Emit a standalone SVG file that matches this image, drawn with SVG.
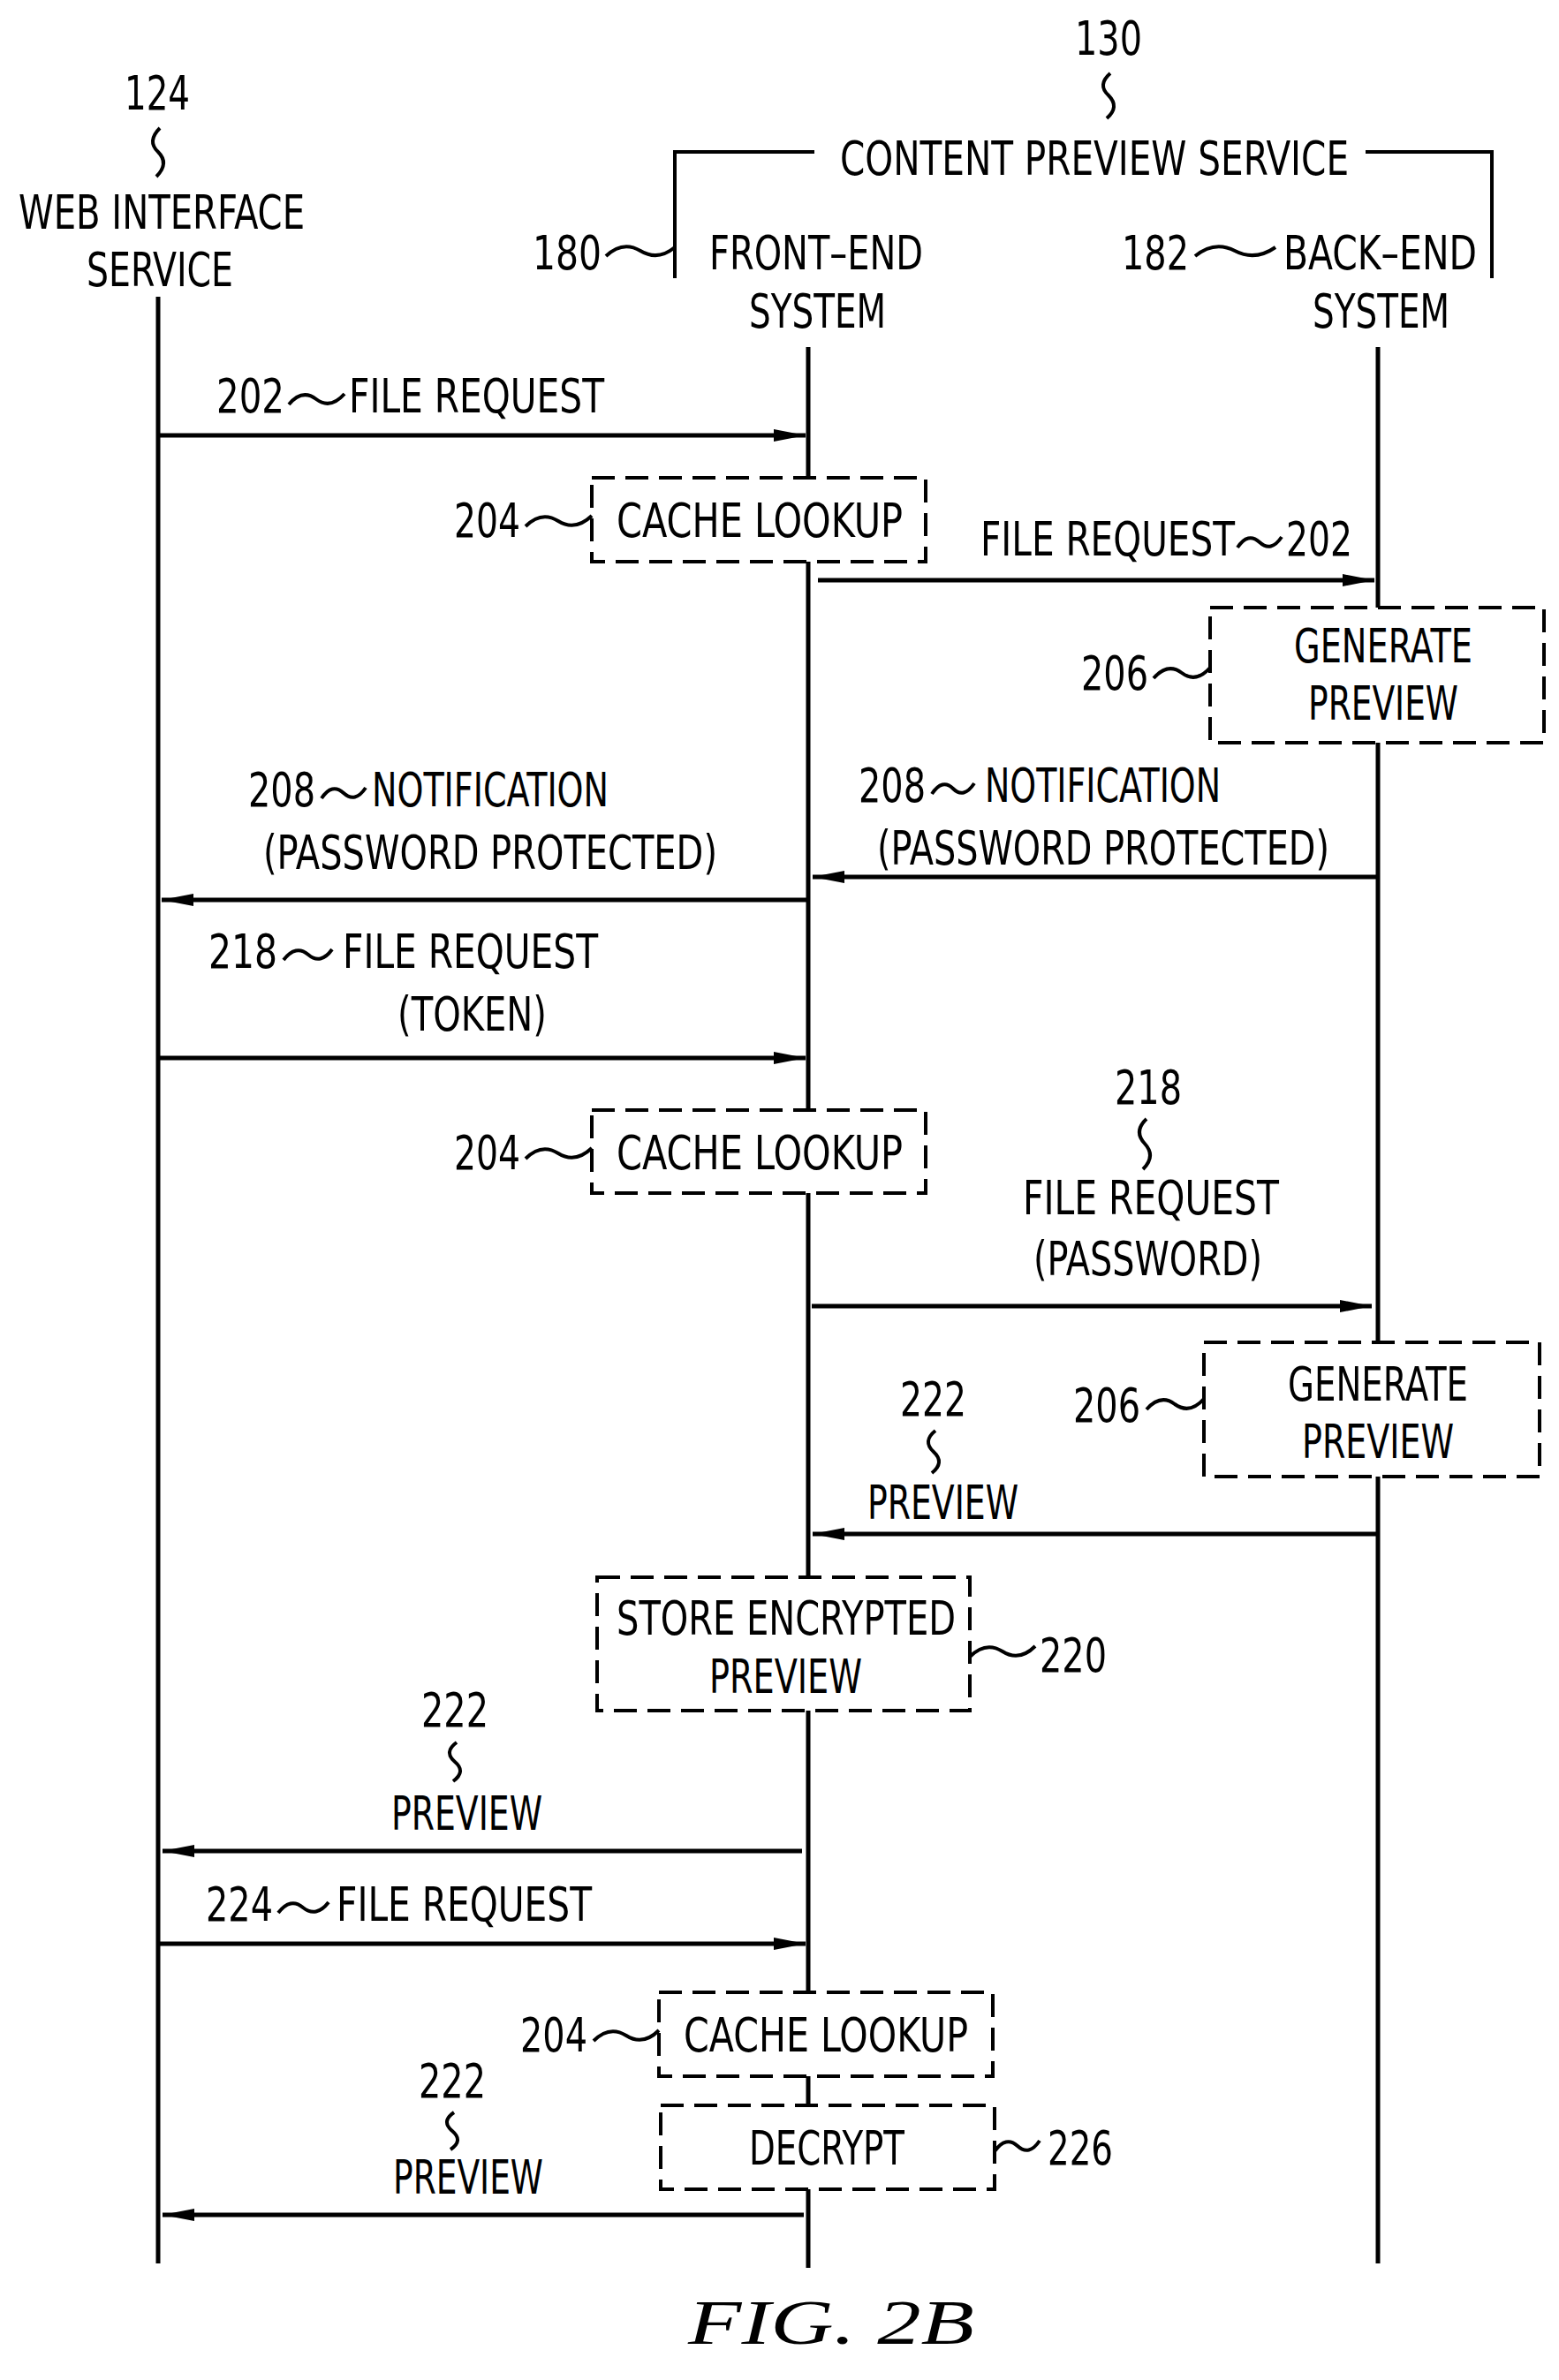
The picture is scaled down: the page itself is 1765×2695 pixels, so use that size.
<svg xmlns="http://www.w3.org/2000/svg" width="1765" height="2695" viewBox="0 0 1765 2695">
<style>
text{font-family:"DejaVu Sans Condensed","Liberation Sans",sans-serif;font-size:54px;fill:#000}
.l{stroke:#000;stroke-width:5;fill:none}
.b{stroke:#000;stroke-width:4;fill:#fff;stroke-dasharray:26 12}
.s{stroke:#000;stroke-width:4;fill:none}
.a{stroke:#000;stroke-width:5;fill:none;marker-end:url(#ah)}
</style>
<defs><marker id="ah" markerUnits="userSpaceOnUse" markerWidth="40" markerHeight="20" refX="36" refY="9" orient="auto"><path d="M0,2 L36,9 L0,16 Z" fill="#000"/></marker></defs>
<rect width="1765" height="2695" fill="#fff"/>
<g id="lifelines">
<line class="l" x1="179" y1="336" x2="179" y2="2563"/>
<line class="l" x1="915" y1="393" x2="915" y2="2568"/>
<line class="l" x1="1560" y1="393" x2="1560" y2="2563"/>
</g>
<g id="web"><text x="141" y="124" textLength="74" lengthAdjust="spacingAndGlyphs">124</text>
<path class="s" d="M181,145 Q166,160 179,172 Q192,185 177,200"/>
<text x="21" y="259" textLength="324" lengthAdjust="spacingAndGlyphs">WEB  INTERFACE</text>
<text x="98" y="324" textLength="166" lengthAdjust="spacingAndGlyphs">SERVICE</text></g>
<g id="cps"><text x="1217" y="62" textLength="76" lengthAdjust="spacingAndGlyphs">130</text>
<path class="s" d="M1257,83 Q1242,96 1255,108 Q1268,121 1253,134"/>
<text x="951" y="198" textLength="576" lengthAdjust="spacingAndGlyphs">CONTENT  PREVIEW  SERVICE</text>
<path class="s" d="M764,315 V172 H922 M1546,172 H1689 V315"/></g>
<g id="front"><text x="603" y="305" textLength="78" lengthAdjust="spacingAndGlyphs">180</text>
<path class="s" d="M686,290 Q705,272 725,284 Q745,296 764,280"/>
<text x="803" y="305" textLength="242" lengthAdjust="spacingAndGlyphs">FRONT–END</text>
<text x="848" y="371" textLength="155" lengthAdjust="spacingAndGlyphs">SYSTEM</text></g>
<g id="back"><text x="1270" y="305" textLength="76" lengthAdjust="spacingAndGlyphs">182</text>
<path class="s" d="M1353,290 Q1375,272 1398,284 Q1421,296 1444,280"/>
<text x="1453" y="305" textLength="219" lengthAdjust="spacingAndGlyphs">BACK–END</text>
<text x="1486" y="371" textLength="155" lengthAdjust="spacingAndGlyphs">SYSTEM</text></g>
<g id="connectors">
<line class="a" x1="179" y1="493" x2="912" y2="493"/>
<line class="a" x1="926" y1="657" x2="1556" y2="657"/>
<line class="a" x1="1560" y1="993" x2="920" y2="993"/>
<line class="a" x1="915" y1="1019" x2="183" y2="1019"/>
<line class="a" x1="179" y1="1198" x2="912" y2="1198"/>
<line class="a" x1="919" y1="1479" x2="1553" y2="1479"/>
<line class="a" x1="1560" y1="1737" x2="920" y2="1737"/>
<line class="a" x1="908" y1="2096" x2="184" y2="2096"/>
<line class="a" x1="179" y1="2201" x2="912" y2="2201"/>
<line class="a" x1="910" y1="2508" x2="184" y2="2508"/>
</g>
<g id="m202a"><text x="245" y="467" textLength="77" lengthAdjust="spacingAndGlyphs">202</text>
<path class="s" d="M327,458 Q342,440 358,452 Q374,464 390,446"/>
<text x="395" y="467" textLength="289" lengthAdjust="spacingAndGlyphs">FILE  REQUEST</text></g>
<g id="cache1"><rect class="b" x="670" y="541" width="378" height="95"/>
<text x="698" y="608" textLength="324" lengthAdjust="spacingAndGlyphs">CACHE  LOOKUP</text>
<text x="514" y="608" textLength="75" lengthAdjust="spacingAndGlyphs">204</text>
<path class="s" d="M595,596 Q613,578 632,590 Q651,602 670,584"/></g>
<g id="m202b"><text x="1110" y="629" textLength="288" lengthAdjust="spacingAndGlyphs">FILE  REQUEST</text>
<path class="s" d="M1401,620 Q1413,602 1426,614 Q1439,626 1451,608"/>
<text x="1456" y="629" textLength="75" lengthAdjust="spacingAndGlyphs">202</text></g>
<g id="gen1"><rect class="b" x="1370" y="688" width="378" height="153"/>
<text x="1465" y="750" textLength="202" lengthAdjust="spacingAndGlyphs">GENERATE</text>
<text x="1481" y="815" textLength="170" lengthAdjust="spacingAndGlyphs">PREVIEW</text>
<text x="1224" y="781" textLength="76" lengthAdjust="spacingAndGlyphs">206</text>
<path class="s" d="M1306,768 Q1322,750 1338,762 Q1354,774 1370,756"/></g>
<g id="m208b"><text x="972" y="908" textLength="76" lengthAdjust="spacingAndGlyphs">208</text>
<path class="s" d="M1055,899 Q1067,881 1079,893 Q1091,905 1103,887"/>
<text x="1115" y="908" textLength="267" lengthAdjust="spacingAndGlyphs">NOTIFICATION</text>
<text x="993" y="979" textLength="512" lengthAdjust="spacingAndGlyphs">(PASSWORD  PROTECTED)</text></g>
<g id="m208a"><text x="281" y="913" textLength="76" lengthAdjust="spacingAndGlyphs">208</text>
<path class="s" d="M364,904 Q376,886 389,898 Q402,910 414,892"/>
<text x="421" y="913" textLength="268" lengthAdjust="spacingAndGlyphs">NOTIFICATION</text>
<text x="298" y="984" textLength="514" lengthAdjust="spacingAndGlyphs">(PASSWORD  PROTECTED)</text></g>
<g id="m218a"><text x="236" y="1096" textLength="78" lengthAdjust="spacingAndGlyphs">218</text>
<path class="s" d="M321,1087 Q335,1069 349,1081 Q363,1093 376,1075"/>
<text x="388" y="1096" textLength="289" lengthAdjust="spacingAndGlyphs">FILE  REQUEST</text>
<text x="450" y="1167" textLength="169" lengthAdjust="spacingAndGlyphs">(TOKEN)</text></g>
<g id="cache2"><rect class="b" x="670" y="1257" width="378" height="94"/>
<text x="698" y="1324" textLength="324" lengthAdjust="spacingAndGlyphs">CACHE  LOOKUP</text>
<text x="514" y="1324" textLength="75" lengthAdjust="spacingAndGlyphs">204</text>
<path class="s" d="M595,1312 Q613,1294 632,1306 Q651,1318 670,1300"/></g>
<g id="m218b"><text x="1262" y="1250" textLength="76" lengthAdjust="spacingAndGlyphs">218</text>
<path class="s" d="M1298,1267 Q1283,1281 1296,1295 Q1309,1309 1294,1324"/>
<text x="1158" y="1375" textLength="290" lengthAdjust="spacingAndGlyphs">FILE  REQUEST</text>
<text x="1170" y="1444" textLength="259" lengthAdjust="spacingAndGlyphs">(PASSWORD)</text></g>
<g id="gen2"><rect class="b" x="1363" y="1520" width="380" height="152"/>
<text x="1458" y="1586" textLength="204" lengthAdjust="spacingAndGlyphs">GENERATE</text>
<text x="1474" y="1651" textLength="172" lengthAdjust="spacingAndGlyphs">PREVIEW</text>
<text x="1215" y="1610" textLength="76" lengthAdjust="spacingAndGlyphs">206</text>
<path class="s" d="M1298,1596 Q1314,1578 1330,1590 Q1347,1602 1363,1584"/></g>
<g id="m222a"><text x="1019" y="1603" textLength="75" lengthAdjust="spacingAndGlyphs">222</text>
<path class="s" d="M1059,1620 Q1044,1632 1057,1644 Q1070,1656 1055,1668"/>
<text x="982" y="1720" textLength="171" lengthAdjust="spacingAndGlyphs">PREVIEW</text></g>
<g id="store"><rect class="b" x="676" y="1786" width="422" height="151"/>
<text x="698" y="1851" textLength="384" lengthAdjust="spacingAndGlyphs">STORE  ENCRYPTED</text>
<text x="803" y="1917" textLength="173" lengthAdjust="spacingAndGlyphs">PREVIEW</text>
<path class="s" d="M1098,1876 Q1116,1858 1135,1870 Q1154,1882 1172,1864"/>
<text x="1177" y="1893" textLength="76" lengthAdjust="spacingAndGlyphs">220</text></g>
<g id="m222b"><text x="477" y="1955" textLength="76" lengthAdjust="spacingAndGlyphs">222</text>
<path class="s" d="M517,1973 Q502,1984 515,1995 Q528,2006 513,2017"/>
<text x="443" y="2072" textLength="171" lengthAdjust="spacingAndGlyphs">PREVIEW</text></g>
<g id="m224"><text x="233" y="2175" textLength="76" lengthAdjust="spacingAndGlyphs">224</text>
<path class="s" d="M315,2166 Q329,2148 343,2160 Q358,2172 372,2154"/>
<text x="381" y="2175" textLength="289" lengthAdjust="spacingAndGlyphs">FILE  REQUEST</text></g>
<g id="cache3"><rect class="b" x="746" y="2256" width="378" height="95"/>
<text x="774" y="2323" textLength="322" lengthAdjust="spacingAndGlyphs">CACHE  LOOKUP</text>
<text x="589" y="2323" textLength="76" lengthAdjust="spacingAndGlyphs">204</text>
<path class="s" d="M672,2311 Q690,2293 709,2305 Q728,2317 746,2299"/></g>
<g id="decrypt"><rect class="b" x="748" y="2384" width="378" height="95"/>
<text x="848" y="2451" textLength="176" lengthAdjust="spacingAndGlyphs">DECRYPT</text>
<path class="s" d="M1126,2436 Q1139,2418 1152,2430 Q1165,2442 1177,2424"/>
<text x="1186" y="2451" textLength="74" lengthAdjust="spacingAndGlyphs">226</text></g>
<g id="m222c"><text x="474" y="2375" textLength="76" lengthAdjust="spacingAndGlyphs">222</text>
<path class="s" d="M514,2392 Q499,2402 512,2413 Q525,2424 510,2434"/>
<text x="445" y="2484" textLength="170" lengthAdjust="spacingAndGlyphs">PREVIEW</text></g>
<text x="779" y="2654" textLength="324" lengthAdjust="spacingAndGlyphs" style="font-family:'Liberation Serif',serif;font-style:italic;font-size:72px">FIG. 2B</text>
</svg>
